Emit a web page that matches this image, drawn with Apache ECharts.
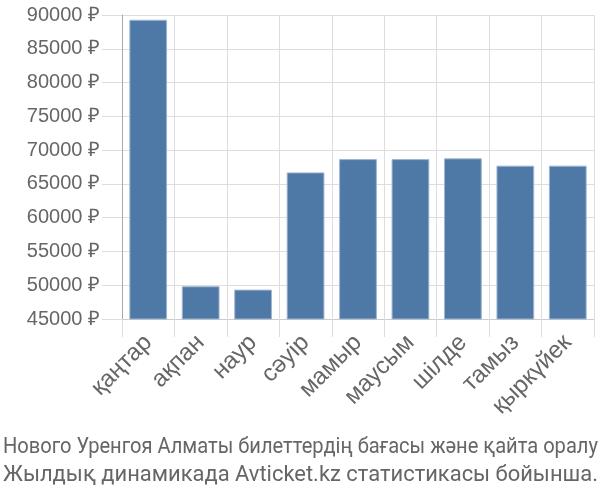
<!DOCTYPE html>
<html><head><meta charset="utf-8">
<script src="https://cdn.jsdelivr.net/npm/echarts@6/dist/echarts.min.js"></script>
<style>html,body{margin:0;padding:0;background:#fff}#c{width:600px;height:500px}</style>
</head><body><div id="c"></div>
<script>
const categories = ['қаңтар','ақпан','наур','сәуір','мамыр','маусым','шілде','тамыз','қыркүйек'];
const prices = [89300, 49850, 49350, 66700, 68670, 68670, 68780, 67700, 67700];
const yMin = 45000, yMax = 90000, yStep = 5000;
const titleLines = ['Нового Уренгоя Алматы билеттердің бағасы және қайта оралу','Жылдық динамикада Avticket.kz статистикасы бойынша.'];

const font = 'Liberation Sans';
const titleFont = '22px Roboto';
const ctx = document.createElement('canvas').getContext('2d');
ctx.font = titleFont;
const titleWidth = 595;
const titleGraphics = titleLines.map((t, i) => {
  const w = ctx.measureText(t).width;
  const s = Math.min(1, titleWidth / w);
  return {
    type: 'text', x: 3, y: 447 + i * 28.5, scaleX: s, originX: 0,
    style: {text: t, font: titleFont, fill: '#666', textVerticalAlign: 'middle', verticalAlign: 'middle'}
  };
});

const chart = echarts.init(document.getElementById('c'));
chart.setOption({
  animation: false,
  backgroundColor: '#fff',
  graphic: titleGraphics,
  grid: {left: 122, right: 6, top: 15, bottom: 181, containLabel: false},
  xAxis: {
    type: 'category', data: categories,
    axisLine: {lineStyle: {color: '#ccc'}},
    axisTick: {show: true, length: 18, lineStyle: {color: '#ddd'}},
    splitLine: {show: true, lineStyle: {color: '#ddd'}},
    axisLabel: {rotate: 45, margin: 20, fontFamily: font, fontSize: 24, color: '#666', interval: 0}
  },
  yAxis: {
    type: 'value', min: yMin, max: yMax, interval: yStep,
    axisLine: {show: true, lineStyle: {color: '#aaa'}},
    axisTick: {show: true, length: 20, lineStyle: {color: '#ddd'}},
    splitLine: {lineStyle: {color: '#ddd'}},
    axisLabel: {margin: 22, fontFamily: font, fontSize: 20, color: '#666', formatter: v => v + ' ₽'}
  },
  series: [{
    type: 'bar', data: prices, barCategoryGap: '28%',
    itemStyle: {color: '#4e79a7', borderColor: '#9fb6d0', borderWidth: 1}
  }]
});
</script></body></html>
